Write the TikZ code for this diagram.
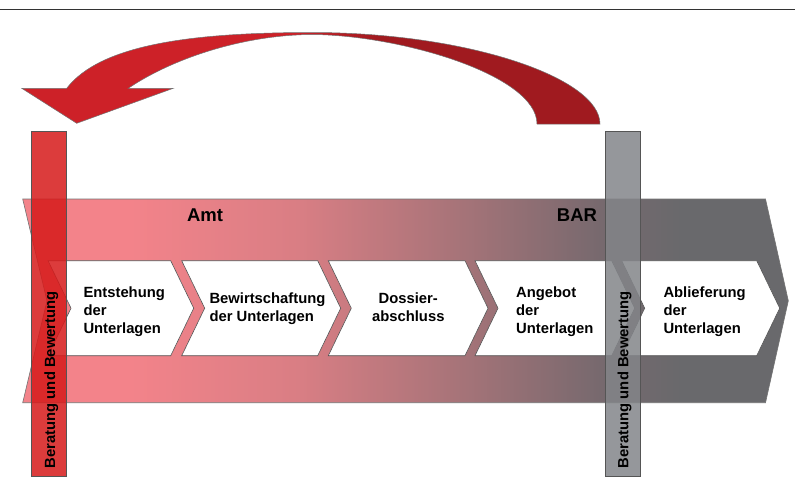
\documentclass[tikz,border=0pt]{standalone}
\usepackage{fontspec}
\setmainfont{Liberation Sans}
\usepackage{tikz}
\usetikzlibrary{positioning}
\usepackage{xcolor}

\definecolor{arrowred}{HTML}{CD2128}
\definecolor{arrowdark}{HTML}{A01A1F}
\definecolor{amtpink}{HTML}{F3838A}
\definecolor{rosea}{HTML}{D97E84}
\definecolor{roseb}{HTML}{A47378}
\definecolor{rosec}{HTML}{77696E}
\definecolor{bargray}{HTML}{69696C}
\definecolor{redbar}{HTML}{D61A1A}
\definecolor{graybar}{HTML}{838589}
\definecolor{edgegray}{HTML}{555555}

\pgfdeclarehorizontalshading{flowshade}{100bp}{color(0bp)=(amtpink); color(32bp)=(amtpink); color(43bp)=(rosea); color(54bp)=(roseb); color(62.7bp)=(rosec); color(68bp)=(bargray); color(100bp)=(bargray)}
\pgfdeclarehorizontalshading{backshade}{100bp}{color(0bp)=(arrowred); color(49bp)=(arrowred); color(56bp)=(arrowdark); color(100bp)=(arrowdark)}

\begin{document}
\begin{tikzpicture}[
    x=1pt, y=-1pt,
    stepshape/.style={draw=edgegray, line width=0.6pt, fill=white},
    steptext/.style={inner sep=0pt, font=\fontsize{14.8}{18}\selectfont\bfseries},
    parttext/.style={inner sep=0pt, font=\fontsize{18.5}{22}\selectfont\bfseries},
    checkbar/.style={draw=edgegray, line width=0.6pt, fill opacity=0.85},
    bartext/.style={inner sep=0pt, rotate=90, anchor=base west, font=\fontsize{14.8}{18}\selectfont\bfseries}
]
\useasboundingbox (0,0) rectangle (795,493);

\draw[line width=1.3pt, black!80] (0,9.5) -- (795,9.5);

% return arrow
\path[draw=black!55, line width=0.5pt, shading=backshade]
  (600,124) .. controls (600,78) and (468,32.5) .. (312,32.5)
  .. controls (190,32.5) and (100,45) .. (66.7,88.3)
  -- (21.7,88.3) -- (76.7,123.3) -- (173.3,88.3) -- (128.3,88.3)
  .. controls (170,60) and (240,35) .. (312,34.5)
  .. controls (400,35) and (537,75) .. (537,124) -- cycle;

% big band Amt -> BAR
\path[draw=black!55, line width=0.6pt, shading=flowshade]
  (22.7,199) -- (765.5,199) -- (788.3,300.8) -- (765.5,402.7)
  -- (22.7,402.7) -- (47,300.8) -- cycle;

\node[parttext] (amt) at (205,215) {Amt};
\node[parttext] (bar) at (577,215) {BAR};

% steps
\foreach \lx/\rx in {48/170.7, 181.7/317.7, 328.3/465, 475/611.7, 621.7/756.7}
  \draw[stepshape] (\lx,260.7) -- (\rx,260.7) -- (\rx+23,308.2)
    -- (\rx,355.7) -- (\lx,355.7) -- (\lx+23,308.2) -- cycle;

\node[steptext, anchor=west, align=left] (entstehung) at (83.3,311.5) {Entstehung\\der\\Unterlagen};
\node[steptext, anchor=west, align=left] (bewirtschaftung) at (209.3,309) {Bewirtschaftung\\der Unterlagen};
\node[steptext, align=center] (dossier) at (408.3,307) {Dossier-\\abschluss};
\node[steptext, anchor=west, align=left] (angebot) at (516,311.5) {Angebot\\der\\Unterlagen};
\node[steptext, anchor=west, align=left] (ablieferung) at (663.3,311.5) {Ablieferung\\der\\Unterlagen};

% Beratung und Bewertung
\draw[checkbar, fill=redbar] (31.7,131.7) rectangle (66,476);
\draw[checkbar, fill=graybar] (605,131.7) rectangle (640,476);
\node[bartext] (beratungamt) at (55,468.3) {Beratung und Bewertung};
\node[bartext] (beratungbar) at (628.3,468.3) {Beratung und Bewertung};

\end{tikzpicture}
\end{document}
